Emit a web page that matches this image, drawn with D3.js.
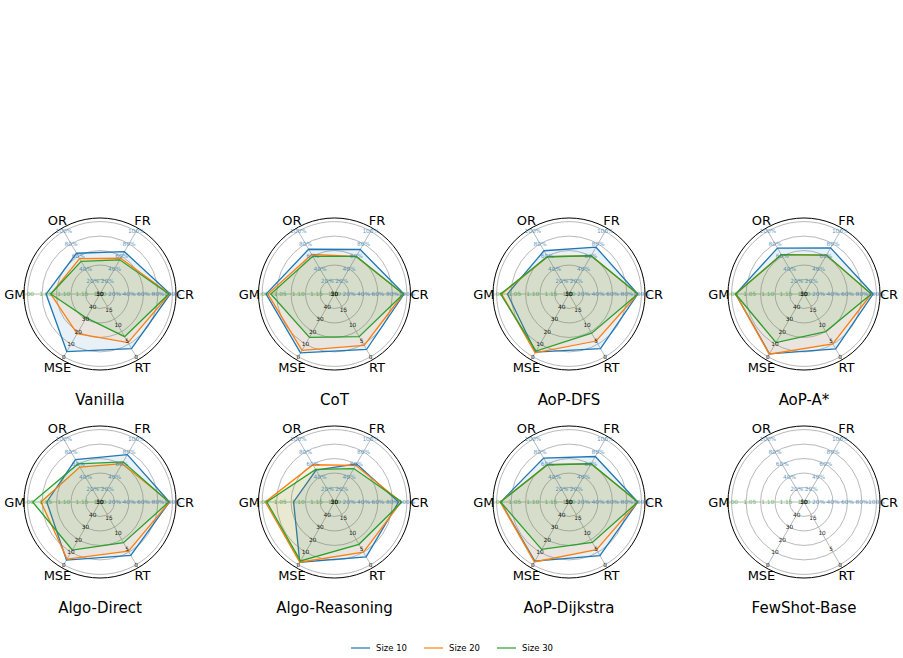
<!DOCTYPE html>
<html>
<head>
<meta charset="utf-8">
<script src="https://cdn.jsdelivr.net/npm/d3@7"></script>
<style>
  html, body { margin: 0; padding: 0; background: #fff; }
  svg { display: block; font-family: "DejaVu Sans", sans-serif; }
</style>
</head>
<body>
<svg id="chart" width="903" height="658"></svg>
<script>
// ---------- data ----------
const methods = ["Vanilla", "CoT", "AoP-DFS", "AoP-A*", "Algo-Direct", "Algo-Reasoning", "AoP-Dijkstra", "FewShot-Base"];
const axesNames = ["CR", "FR", "OR", "GM", "MSE", "RT"];
const seriesNames = ["Size 10", "Size 20", "Size 30"];
const seriesColors = ["#1f77b4", "#ff7f0e", "#2ca02c"];

// values per method: [CR %, FR %, OR %, GM, MSE, RT]; null = no data
const size10 = [
  [97, 67.5, 65, 1.051, 4.1, 2.6],
  [96, 71, 71.4, 1.011, 3.0, 2.3],
  [95, 74.6, 69, 1.030, 3.7, 2.6],
  [95.4, 73.5, 73.3, 1.011, 2.3, 2.5],
  [96, 75.5, 67.7, 1.053, 3.7, 3.0],
  [88.5, 60.8, 51, 1.087, 2.0, 2.5],
  [95, 72.6, 70, 1.011, 2.8, 2.9],
  null
];
const size20 = [
  [96, 57, 56.5, 1.064, 18.4, 4.5],
  [95, 60, 63, 1.016, 5.1, 3.6],
  [95, 61, 59.4, 1.014, 3.1, 5.0],
  [93, 62, 62.7, 1.011, 2.0, 4.1],
  [96, 61.3, 55.7, 1.037, 4.5, 4.3],
  [92, 58.5, 59.4, 1.009, 2.0, 4.0],
  [95, 61, 59.4, 1.010, 2.2, 4.8],
  null
];
const size30 = [
  [95, 54.5, 52, 1.064, 31, 6.4],
  [95, 60, 60, 1.024, 15.4, 6.4],
  [95, 61, 59.4, 1.011, 4.5, 7.5],
  [93, 62, 62.7, 1.011, 11.3, 8.0],
  [95, 64, 60.8, 1.014, 11.7, 7.0],
  [93, 53.3, 52, 1.013, 3.0, 6.5],
  [95, 61, 59.4, 1.011, 12.2, 7.1],
  null
];

// tick labels per axis
const pctTicks = [20, 40, 60, 80, 100];
const gmTicks = [1.20, 1.15, 1.10, 1.05, 1.00];
const mseTicks = [50, 40, 30, 20, 10, 0];
const rtTicks = [20, 15, 10, 5, 0];
const gridLevels = [0.2, 0.4, 0.6, 0.8, 1.0];

// ---------- layout ----------
const R = 72.4;           // radius for normalised 1.0
const Rmax = R * 1.05;    // outer frame
const colX = [100, 334.5, 569, 804];
const rowY = [294, 502];

const svg = d3.select("#chart");

const rScale = d3.scaleLinear().domain([0, 1]).range([0, R]);
const axisScales = [
  d3.scaleLinear().domain([0, 100]).range([0, 1]),
  d3.scaleLinear().domain([0, 100]).range([0, 1]),
  d3.scaleLinear().domain([0, 100]).range([0, 1]),
  d3.scaleLinear().domain([1.2, 1.0]).range([0, 1]),
  d3.scaleLinear().domain([50, 0]).range([0, 1]),
  d3.scaleLinear().domain([20, 0]).range([0, 1])
];
const angleOf = i => Math.PI / 2 - i * Math.PI / 3;
const pos = (i, rn) => {
  const a = angleOf(i);
  return [Math.sin(a) * rScale(rn), -Math.cos(a) * rScale(rn)];
};

const radialLine = d3.lineRadial()
  .angle((d, i) => angleOf(i))
  .radius((d, i) => rScale(axisScales[i](d)))
  .curve(d3.curveLinearClosed);

const seriesData = [size10, size20, size30];

methods.forEach((m, k) => {
  const cx = colX[k % 4], cy = rowY[Math.floor(k / 4)];
  const g = svg.append("g").attr("transform", `translate(${cx},${cy})`);

  g.selectAll("circle.ring").data(gridLevels).join("circle")
    .attr("class", "ring")
    .attr("r", d => rScale(d))
    .attr("fill", "none").attr("stroke", "#b0b0b0").attr("stroke-width", 0.9);
  g.selectAll("line.spoke").data(axesNames).join("line")
    .attr("class", "spoke")
    .attr("x1", 0).attr("y1", 0)
    .attr("x2", (d, i) => Math.sin(angleOf(i)) * Rmax)
    .attr("y2", (d, i) => -Math.cos(angleOf(i)) * Rmax)
    .attr("stroke", "#b0b0b0").attr("stroke-width", 0.9);
  g.append("circle").attr("r", Rmax).attr("fill", "none").attr("stroke", "#000").attr("stroke-width", 1);

  seriesData.forEach((arr, s) => {
    const vals = arr[k];
    if (!vals) return;
    g.append("path").attr("d", radialLine(vals))
      .attr("fill", seriesColors[s]).attr("fill-opacity", 0.1).attr("stroke", "none");
    g.append("path").attr("d", radialLine(vals))
      .attr("fill", "none").attr("stroke", seriesColors[s]).attr("stroke-width", 1.3)
      .attr("stroke-linejoin", "miter");
  });

  const tickGroups = [
    { i: 0, ticks: pctTicks, fmt: v => v + "%", color: "#1f77b4" },
    { i: 1, ticks: pctTicks, fmt: v => v + "%", color: "#1f77b4" },
    { i: 2, ticks: pctTicks, fmt: v => v + "%", color: "#1f77b4" },
    { i: 3, ticks: gmTicks, fmt: v => v.toFixed(2), color: "#2ca02c" },
    { i: 4, ticks: mseTicks, fmt: v => String(v), color: "#000" },
    { i: 5, ticks: rtTicks, fmt: v => String(v), color: "#000" }
  ];
  tickGroups.forEach(tg => {
    g.selectAll(null).data(tg.ticks).join("text")
      .attr("x", v => pos(tg.i, axisScales[tg.i](v))[0])
      .attr("y", v => pos(tg.i, axisScales[tg.i](v))[1])
      .attr("text-anchor", "middle").attr("dominant-baseline", "central")
      .attr("font-size", 5.8)
      .attr("fill", tg.color).attr("fill-opacity", tg.color === "#000" ? 0.9 : 0.75)
      .text(tg.fmt);
  });

  g.selectAll("text.axlab").data(axesNames).join("text")
    .attr("class", "axlab")
    .attr("x", (d, i) => pos(i, 1.175)[0])
    .attr("y", (d, i) => pos(i, 1.175)[1])
    .attr("text-anchor", "middle").attr("dominant-baseline", "central")
    .attr("font-size", 13).attr("fill", "#000")
    .text(d => d);

  g.append("text").attr("x", 0).attr("y", 106)
    .attr("text-anchor", "middle").attr("dominant-baseline", "central")
    .attr("font-size", 15).attr("fill", "#000").text(m);
});

// legend
const legX = [351, 424, 497];
const leg = svg.append("g").attr("transform", "translate(0,648)");
seriesNames.forEach((n, s) => {
  leg.append("line").attr("x1", legX[s]).attr("x2", legX[s] + 19).attr("y1", 0).attr("y2", 0)
    .attr("stroke", seriesColors[s]).attr("stroke-width", 1.5).attr("stroke-opacity", 0.8);
  leg.append("text").attr("x", legX[s] + 25).attr("y", 0)
    .attr("dominant-baseline", "central").attr("font-size", 8.5).attr("fill", "#000").text(n);
});
</script>
</body>
</html>
